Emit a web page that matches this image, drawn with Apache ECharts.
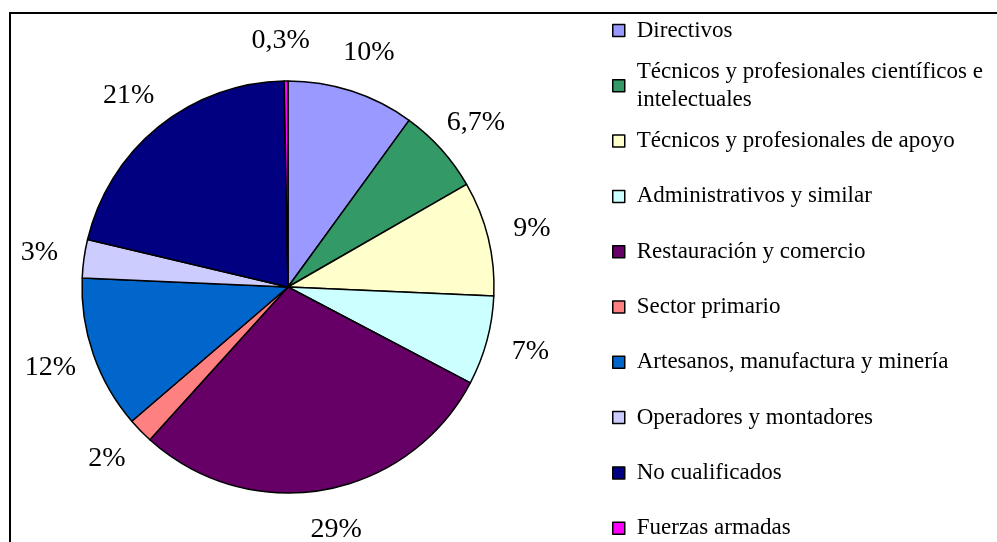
<!DOCTYPE html>
<html>
<head>
<meta charset="utf-8">
<script src="https://cdn.jsdelivr.net/npm/echarts@6/dist/echarts.min.js"></script>
<style>
  html, body { margin: 0; padding: 0; background: #fff; }
  #chart { width: 997px; height: 542px; }
</style>
</head>
<body>
<div id="chart"></div>
<script>
var categories = [
  'Directivos',
  'Técnicos y profesionales científicos e intelectuales',
  'Técnicos y profesionales de apoyo',
  'Administrativos y similar',
  'Restauración y comercio',
  'Sector primario',
  'Artesanos, manufactura y minería',
  'Operadores y montadores',
  'No cualificados',
  'Fuerzas armadas'
]
var values = [10, 6.7, 9, 7, 29, 2, 12, 3, 21, 0.3]
var colors = ['#9999FF', '#339966', '#FFFFCC', '#CCFFFF', '#660066',
  '#FF8080', '#0066CC', '#CCCCFF', '#000080', '#FF00FF']

var chart = echarts.init(document.getElementById('chart'))

var font = '"Liberation Serif", "Times New Roman", serif'

// one legend per item so every row sits on its own fixed slot
var legends = categories.map(function (name, i) {
  var centerY = 30.5 + i * 55.3
  var wrapped = name.indexOf('científicos') > -1
  return {
    orient: 'vertical',
    left: 612,
    top: wrapped ? centerY - 42 : centerY - 14,
    padding: 0,
    itemWidth: 12,
    itemHeight: 12,
    icon: 'rect',
    selectedMode: false,
    itemStyle: { borderColor: '#000', borderWidth: 1.5 },
    data: [name],
    formatter: function (n) {
      return wrapped ? 'Técnicos y profesionales científicos e\nintelectuales' : n
    },
    textStyle: {
      fontFamily: font,
      fontSize: 23,
      lineHeight: 28,
      color: '#000',
      padding: wrapped ? [28, 0, 0, 7] : [0, 0, 0, 7]
    }
  }
})

var option = {
  backgroundColor: '#fff',
  animation: false,
  color: colors,
  legend: legends,
  graphic: [{
    type: 'rect',
    shape: { x: 10, y: 13, width: 1000, height: 600 },
    style: { fill: 'none', stroke: '#000', lineWidth: 2 },
    silent: true
  }],
  series: [{
    type: 'pie',
    center: [288, 287],
    radius: 206,
    startAngle: 90,
    clockwise: true,
    avoidLabelOverlap: false,
    itemStyle: {
      borderColor: '#000',
      borderWidth: 1.5
    },
    label: {
      show: true,
      position: 'outside',
      fontFamily: font,
      fontSize: 28,
      color: '#000',
      formatter: function (p) {
        return String(p.value).replace('.', ',') + '%'
      }
    },
    labelLine: {
      show: false,
      length: 40,
      length2: 0
    },
    labelLayout: function () {
      return { align: 'center' }
    },
    emphasis: { disabled: true },
    data: categories.map(function (c, i) {
      return { name: c, value: values[i] }
    })
  }]
}

chart.setOption(option)
</script>
</body>
</html>
